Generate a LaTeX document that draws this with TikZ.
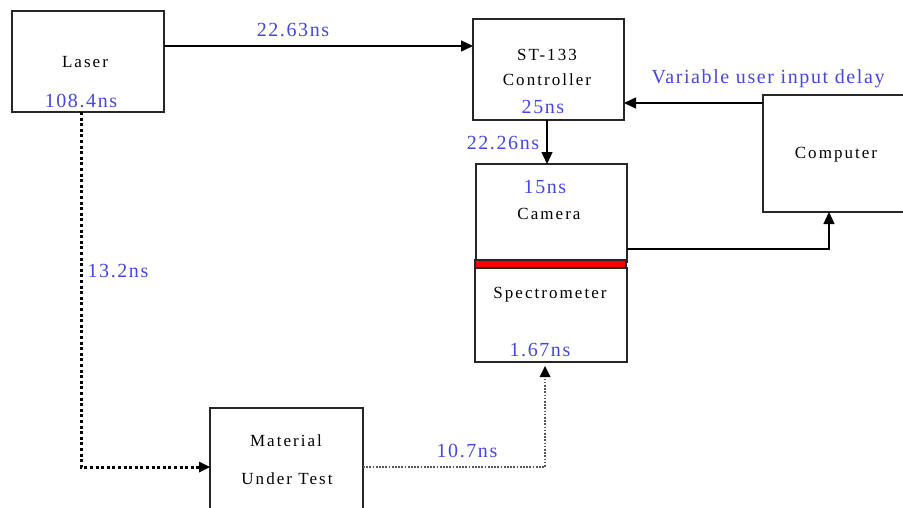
\documentclass[tikz,border=0pt]{standalone}
\usepackage{fontspec}
\setmainfont{Liberation Serif}
\newfontfamily\bluefont[LetterSpace=8]{Liberation Serif}
\newfontfamily\boxfont[LetterSpace=12]{Liberation Serif}
\usetikzlibrary{arrows.meta,calc}
\definecolor{lblblue}{RGB}{70,70,225}
\definecolor{dotgray}{RGB}{90,90,90}
\tikzset{
  blk/.style={draw=black!85, line width=1.5pt, inner sep=0pt, outer sep=0pt, anchor=north west},
  boxtext/.style={inner sep=0pt, font=\boxfont\fontsize{17}{20}\selectfont, text=black},
  bluelbl/.style={inner sep=0pt, font=\bluefont\fontsize{20}{24}\selectfont, text=lblblue},
  arr/.style={line width=1.4pt, -{Triangle[length=12pt,width=11pt]}},
  dotarr/.style={line width=3pt, dash pattern=on 3pt off 2.6pt, -{Triangle[length=11pt,width=11pt,line width=0pt]}},
  grayarr/.style={line width=1.7pt, dash pattern=on 1.7pt off 1.5pt, draw=dotgray, -{Triangle[length=11pt,width=11pt,color=black,line width=0pt]}},
}
\begin{document}
\begin{tikzpicture}[x=1pt,y=-1pt]
\useasboundingbox (0,0) rectangle (903,507);
\clip (0,0) rectangle (903,507);
% boxes
\node[blk, minimum width=152pt, minimum height=101pt] (laser) at (12,11) {};
\node[blk, minimum width=151pt, minimum height=101pt] (ctrl) at (473,19) {};
\node[blk, minimum width=152pt, minimum height=117pt] (comp) at (763,95) {};
\node[blk, minimum width=151pt, minimum height=98pt] (cam) at (476,164) {};
\node[blk, minimum width=152pt, minimum height=94pt] (spec) at (475,268) {};
\node[blk, fill=red, minimum width=151pt, minimum height=8pt] (bar) at (475,260) {};
\node[blk, minimum width=153pt, minimum height=112pt] (mat) at (210,408) {};
% box texts
\node[boxtext] (tlaser) at (85,62) {Laser};
\node[boxtext] (tst) at (547,55) {ST-133};
\node[boxtext] (tctrl) at (547,80) {Controller};
\node[boxtext] (tcam) at (549,214) {Camera};
\node[boxtext] (tcomp) at (836,155) {Computer};
\node[boxtext] (tspec) at (550,295) {Spectrometer};
\node[boxtext] (tmat) at (286,441) {Material};
\node[boxtext] (tut) at (287,479) {Under Test};
% blue labels
\node[bluelbl] (l1) at (293,30) {22.63ns};
\node[bluelbl] (l2) at (81,101) {108.4ns};
\node[bluelbl] (l3) at (543,107) {25ns};
\node[bluelbl] (l4) at (503,143) {22.26ns};
\node[bluelbl] (l5) at (545,187) {15ns};
\node[bluelbl] (l6) at (768,79) {Variable user input delay};
\node[bluelbl] (l7) at (118,271) {13.2ns};
\node[bluelbl] (l8) at (540,350) {1.67ns};
\node[bluelbl] (l9) at (467,451) {10.7ns};
% connectors
\coordinate (c1) at (829,249);
\coordinate (c2) at (81,467);
\coordinate (c3) at (545,467);
\coordinate (c4) at (545,366);
\draw[arr] (laser.east |- 0,46) -- (ctrl.west |- 0,46);
\draw[arr] (comp.west |- 0,103) -- (ctrl.east |- 0,103);
\draw[arr] (ctrl.south -| 547,0) -- (cam.north -| 547,0);
\draw[arr] (cam.east |- c1) -- (c1) -- (comp.south -| c1);
\draw[dotarr] (laser.south -| c2) -- (c2) -- (mat.west |- c2);
\draw[grayarr] (mat.east |- c3) -- (c3) -- (c4);
\end{tikzpicture}
\end{document}
